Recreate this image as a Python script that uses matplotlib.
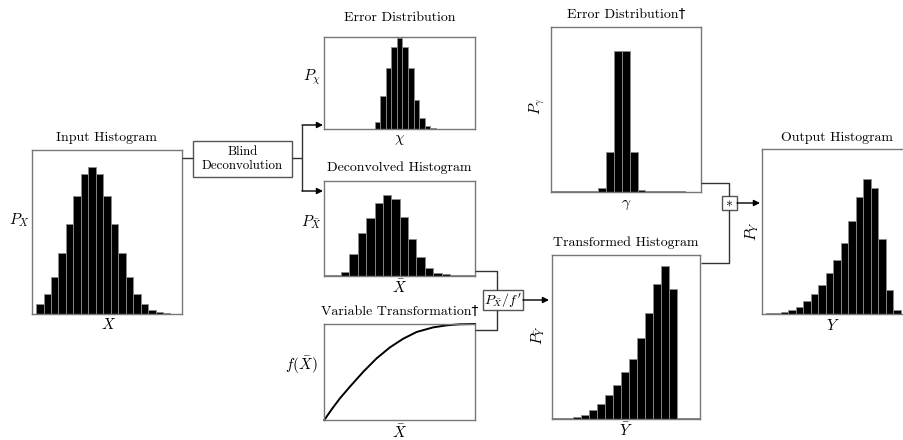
import numpy as np
import matplotlib.pyplot as plt
from matplotlib.patches import Rectangle

plt.rcParams['font.family'] = 'serif'
plt.rcParams['font.serif'] = ['cmr10']
plt.rcParams['mathtext.fontset'] = 'cm'
plt.rcParams['axes.unicode_minus'] = False

# histogram bin heights (arbitrary units)
input_counts = [31, 61, 111, 183, 270, 355, 420, 443, 420, 355, 270, 183, 111, 61, 31, 13, 6, 3]
chi_counts = [0, 0, 0, 0, 0, 0, 0, 0, 2, 23, 101, 183, 246, 273, 246, 183, 88, 33, 11, 3,
              0, 0, 0, 0, 0, 0, 0]
deconv_counts = [0, 0, 13, 66, 128, 175, 218, 243, 230, 176, 110, 56, 25, 10, 5, 0, 0, 0]
gamma_counts = [0, 0, 0, 0, 0, 0, 12, 120, 424, 424, 120, 7, 0, 0, 0, 0, 0]
transformed_counts = [0, 1, 3, 5, 11, 27, 44, 72, 103, 140, 181, 243, 318, 405, 461, 391, 0, 0, 0]
output_counts = [0, 2, 6, 11, 21, 38, 60, 88, 123, 162, 213, 279, 353, 406, 378, 226, 72, 13]

# variable transformation curve f(Xbar)
curve_x = [0, 0.049, 0.104, 0.170, 0.259, 0.347, 0.436, 0.524, 0.613, 0.723, 0.812, 0.900, 1.0]
curve_y = [0, 0.111, 0.226, 0.347, 0.503, 0.642, 0.757, 0.847, 0.917, 0.965, 0.986, 0.997, 1.0]

W, H = 904, 440
fig = plt.figure(figsize=(W / 100, H / 100), dpi=100)
FS = 10       # titles
FS_MATH = 11  # axis symbols
FS_BOX = 9.3  # text inside the flow boxes
SPINE = '#777777'
LINE = '#333333'
DAGGER = ['cmr10', 'DejaVu Sans']   # cmr10 has no dagger, DejaVu fills it in


def box_axes(x0, y0, x1, y1):
    # axes placed in pixel coords (y from top)
    ax = fig.add_axes([x0 / W, 1 - y1 / H, (x1 - x0) / W, (y1 - y0) / H])
    ax.set_xticks([])
    ax.set_yticks([])
    for s in ax.spines.values():
        s.set_color(SPINE)
        s.set_linewidth(1.0)
    return ax


def draw_hist(ax, counts, xlim, ytop):
    vals = np.array(counts, dtype=float)
    shown = np.maximum(vals, ytop * 0.006)  # empty bins still show as a dash on the base
    ax.bar(np.arange(len(vals)), shown, width=1.0, color='black',
           edgecolor='#8c8c8c', linewidth=0.6)
    ax.set_xlim(*xlim)
    ax.set_ylim(0, ytop)


def labels(ax, title, title_gap, xlab, xl_pos, ylab, yl_pos, rot=0):
    bb = ax.get_position()
    h_px = bb.height * H
    ax.text(0.5, 1 + title_gap / h_px, title, transform=ax.transAxes,
            ha='center', va='center', fontsize=FS, family=DAGGER)
    ax.text(xl_pos[0], xl_pos[1], xlab, transform=ax.transAxes,
            ha='center', va='center', fontsize=FS_MATH)
    ax.text(yl_pos[0], yl_pos[1], ylab, transform=ax.transAxes,
            ha='center', va='center', fontsize=FS_MATH, rotation=rot)


# Input Histogram
ax_in = box_axes(32.3, 150, 181.7, 314.3)
draw_hist(ax_in, input_counts, (-1, 19), 493)
labels(ax_in, 'Input Histogram', 12, '$X$', (0.507, -0.065), '$P_X$', (-0.085, 0.57))

# Error Distribution (chi)
ax_chi = box_axes(324.3, 36.7, 475, 129.3)
draw_hist(ax_chi, chi_counts, (-0.5, 26.5), 278)
labels(ax_chi, 'Error Distribution', 19, r'$\chi$', (0.5, -0.115), r'$P_\chi$', (-0.078, 0.565))

# Deconvolved Histogram
ax_dec = box_axes(324.3, 181, 475, 276)
draw_hist(ax_dec, deconv_counts, (-0.5, 17.5), 285)
labels(ax_dec, 'Deconvolved Histogram', 13, r'$\bar{X}$', (0.5, -0.116),
       r'$P_{\bar{X}}$', (-0.083, 0.57))

# Variable Transformation
ax_f = box_axes(324.3, 324, 475, 420)
ax_f.plot(curve_x, curve_y, color='black', lw=1.4, clip_on=False)
ax_f.set_xlim(0, 1)
ax_f.set_ylim(0, 1)
labels(ax_f, 'Variable Transformation\u2020', 12, r'$\bar{X}$', (0.5, -0.125),
       r'$f(\bar{X})$', (-0.155, 0.57))

# Error Distribution (gamma)
ax_g = box_axes(550.7, 27.3, 700.7, 192.3)
draw_hist(ax_g, gamma_counts, (-0.5, 18.5), 495)
labels(ax_g, 'Error Distribution\u2020', 12, r'$\gamma$', (0.5, -0.077),
       r'$P_\gamma$', (-0.09, 0.52), rot=90)

# Transformed Histogram
ax_t = box_axes(551.7, 255, 700, 419)
draw_hist(ax_t, transformed_counts, (-0.21, 18.43), 493)
labels(ax_t, 'Transformed Histogram', 12, r'$\bar{Y}$', (0.5, -0.067),
       r'$P_{\bar{Y}}$', (-0.09, 0.51), rot=90)

# Output Histogram (runs past the right edge of the figure)
ax_out = box_axes(761.7, 149, 911.7, 314)
draw_hist(ax_out, output_counts, (-1.06, 18.94), 496)
labels(ax_out, 'Output Histogram', 11, '$Y$', (0.475, -0.067),
       '$P_Y$', (-0.065, 0.50), rot=90)

# overlay in pixel coords for the flow connectors
ov = fig.add_axes([0, 0, 1, 1])
ov.set_xlim(0, W)
ov.set_ylim(H, 0)
ov.axis('off')
ov.patch.set_visible(False)


def seg(xs, ys):
    ov.plot(xs, ys, color=LINE, lw=1.0, solid_capstyle='butt')


def arrow(x0, y, x1):
    ov.annotate('', xy=(x1, y), xytext=(x0, y),
                arrowprops=dict(arrowstyle='-|>', color='black', lw=1.0,
                                shrinkA=0, shrinkB=0, mutation_scale=9))


def tbox(x0, y0, x1, y1, text, fs):
    ov.add_patch(Rectangle((x0, y0), x1 - x0, y1 - y0, facecolor='white',
                           edgecolor='#555555', lw=1.0))
    ov.text((x0 + x1) / 2, (y0 + y1) / 2, text, ha='center', va='center',
            fontsize=fs, linespacing=1.15)


seg([182, 193], [158, 158])
tbox(193, 141, 292, 177, 'Blind\nDeconvolution', FS_BOX)
seg([292, 302], [158, 158])
seg([302, 302], [125, 191])
arrow(302, 125, 323)
arrow(302, 191, 323)

seg([475, 497, 497], [271, 271, 290])
seg([497, 497, 475], [310, 330, 330])
tbox(483, 290, 523, 310, r'$P_{\bar{X}}/f^{\prime}$', 10)
arrow(523, 300, 549)

seg([701, 729, 729], [183, 183, 196])
seg([729, 729, 701], [210, 263, 263])
tbox(722, 196, 737, 210, '$*$', 10)
arrow(737, 203, 760)

fig.savefig('out.png', dpi=100)
